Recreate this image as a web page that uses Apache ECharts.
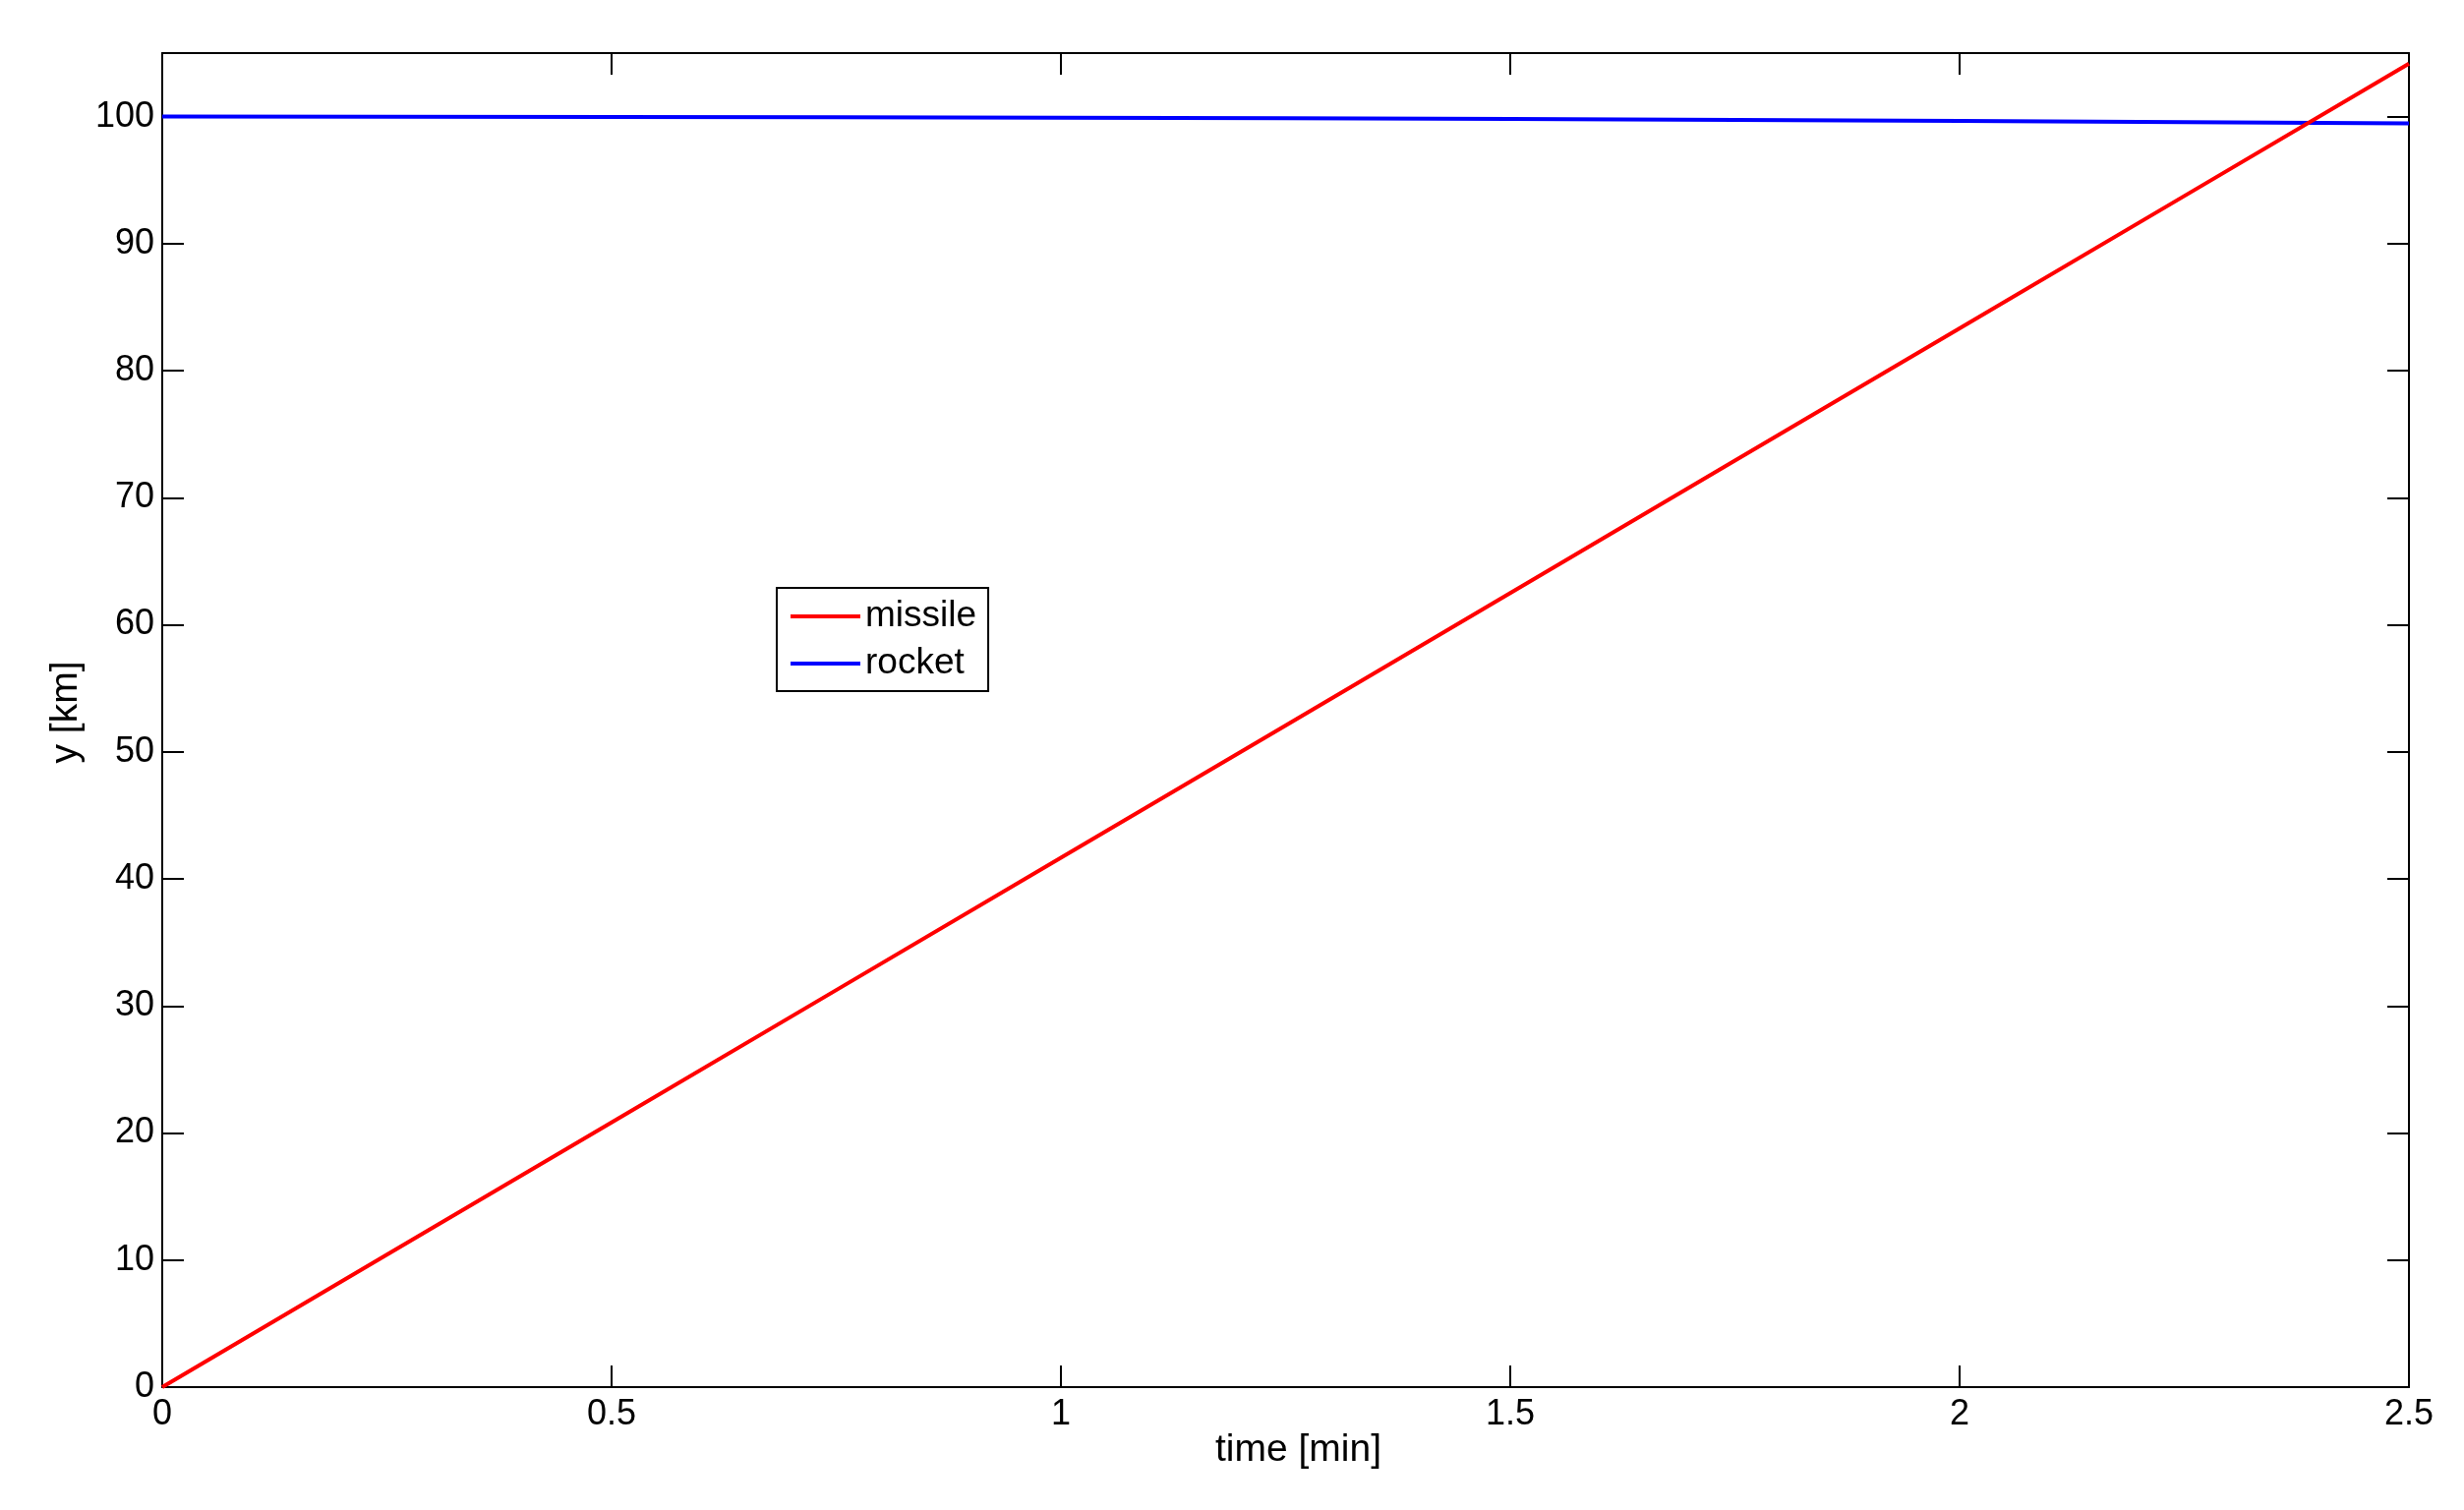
<!DOCTYPE html>
<html>
<head>
<meta charset="utf-8">
<script src="https://cdn.jsdelivr.net/npm/echarts@6/dist/echarts.min.js"></script>
<style>
html,body{margin:0;padding:0;background:#fff;}
#chart{width:2506px;height:1536px;}
</style>
</head>
<body>
<div id="chart"></div>
<script>
var time = [0, 0.25, 0.5, 0.75, 1.0, 1.25, 1.5, 1.75, 2.0, 2.25, 2.5];
var missile = [0, 10.42, 20.83, 31.25, 41.67, 52.08, 62.5, 72.92, 83.33, 93.75, 104.17];
var rocket = [100, 99.995, 99.98, 99.95, 99.915, 99.865, 99.81, 99.735, 99.655, 99.56, 99.46];
var seriesNames = ['missile', 'rocket'];
var xTitle = 'time [min]';
var yTitle = 'y [km]';

function pairs(xs, ys) { return xs.map(function (x, i) { return [x, ys[i]]; }); }

var font = 'Liberation Sans, Arial, Helvetica, sans-serif';
var chart = echarts.init(document.getElementById('chart'));
var axisLine = { show: true, onZero: false, lineStyle: { color: '#000', width: 2 } };
var tick = { show: true, inside: true, length: 22, lineStyle: { color: '#000', width: 2 } };
chart.setOption({
  animation: false,
  backgroundColor: '#fff',
  grid: { left: 165, right: 56, top: 54, bottom: 125, show: false },
  legend: {
    data: seriesNames,
    orient: 'vertical',
    left: 790, top: 598,
    backgroundColor: '#fff',
    borderColor: '#000', borderWidth: 2, borderRadius: 0,
    padding: [10, 12, 9, 14],
    itemGap: 10,
    itemWidth: 71, itemHeight: 4,
    itemTextGap: 8,
    icon: 'rect',
    textStyle: { fontFamily: font, fontSize: 37, color: '#000', lineHeight: 38 }
  },
  xAxis: [{
    type: 'value', min: 0, max: 2.5, interval: 0.5, position: 'bottom',
    name: xTitle, nameLocation: 'middle', nameGap: 45, nameMoveOverlap: false,
    nameTextStyle: { fontFamily: font, fontSize: 39, color: '#000', padding: [0, 0, 0, 26] },
    axisLine: axisLine, axisTick: tick,
    axisLabel: { fontFamily: font, fontSize: 36, color: '#000', margin: 10 },
    splitLine: { show: false }
  }, {
    type: 'value', min: 0, max: 2.5, interval: 0.5, position: 'top',
    axisLine: axisLine, axisTick: tick, axisLabel: { show: false }, splitLine: { show: false }
  }],
  yAxis: [{
    type: 'value', min: 0, max: 105, interval: 10, position: 'left',
    name: yTitle, nameLocation: 'middle', nameGap: 78, nameRotate: 90, nameMoveOverlap: false,
    nameTextStyle: { fontFamily: font, fontSize: 39, color: '#000', padding: [0, 0, 0, 16] },
    axisLine: axisLine, axisTick: tick,
    axisLabel: { fontFamily: font, fontSize: 36, color: '#000', margin: 8, showMaxLabel: false,
      formatter: function (v) { return v % 10 === 0 ? String(v) : ''; } },
    splitLine: { show: false }
  }, {
    type: 'value', min: 0, max: 105, interval: 10, position: 'right',
    axisLine: axisLine, axisTick: tick, axisLabel: { show: false }, splitLine: { show: false }
  }],
  series: [{
    name: 'missile', type: 'line', data: pairs(time, missile), showSymbol: false, symbol: 'none',
    lineStyle: { color: '#ff0000', width: 4 }, itemStyle: { color: '#ff0000' }, z: 4
  }, {
    name: 'rocket', type: 'line', data: pairs(time, rocket), showSymbol: false, symbol: 'none',
    lineStyle: { color: '#0000ff', width: 4 }, itemStyle: { color: '#0000ff' }, z: 3
  }]
});
</script>
</body>
</html>
